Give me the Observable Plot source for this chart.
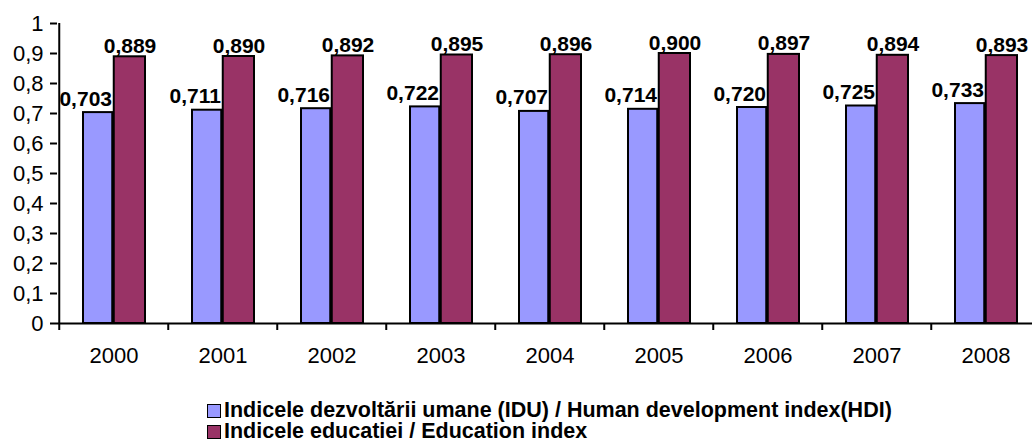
<!DOCTYPE html>
<html>
<head>
<meta charset="utf-8">
<script src="https://cdn.jsdelivr.net/npm/d3@7"></script>
<script src="https://cdn.jsdelivr.net/npm/@observablehq/plot@0.6"></script>
<style>
  html, body { margin: 0; padding: 0; background: #fff; }
  body { width: 1032px; height: 441px; overflow: hidden; font-family: "Liberation Sans", Arial, sans-serif; }
  #chart svg { display: block; }
  #legend { padding-left: 207px; font-weight: bold; font-size: 21.5px; line-height: 21px; color: #000; }
  .row { height: 21px; display: flex; align-items: center; white-space: nowrap; }
  .sw { width: 12px; height: 12px; border: 1.5px solid #000; margin-right: 3px; flex: none; }
</style>
</head>
<body>
<div id="chart"></div>
<div id="legend"></div>
<script>
const years = ["2000", "2001", "2002", "2003", "2004", "2005", "2006", "2007", "2008"];
const hdiValues = [0.703, 0.711, 0.716, 0.722, 0.707, 0.714, 0.720, 0.725, 0.733];
const eduValues = [0.889, 0.890, 0.892, 0.895, 0.896, 0.900, 0.897, 0.894, 0.893];
const yTicks = [0, 0.1, 0.2, 0.3, 0.4, 0.5, 0.6, 0.7, 0.8, 0.9, 1];
const seriesNames = [
  "Indicele dezvoltării umane (IDU) / Human development index(HDI)",
  "Indicele educatiei / Education index"
];
const seriesColors = ["#9999FF", "#993366"];

const hdiData = years.map((y, i) => ({year: y, value: hdiValues[i]}));
const eduData = years.map((y, i) => ({year: y, value: eduValues[i]}));
const fmtVal = v => v.toFixed(3).replace(".", ",");
const fmtTick = v => String(+v.toFixed(1)).replace(".", ",");

const W = 1032, H = 400;
const plotLeft = 57, plotTop = 23, zeroY = 323;
const band = 109.5;
const half = band / 2;

const chart = Plot.plot({
  width: W,
  height: H,
  marginLeft: plotLeft,
  marginRight: 0,
  marginTop: plotTop,
  marginBottom: H - zeroY,
  x: {type: "band", domain: years, range: [plotLeft, plotLeft + band * years.length], padding: 0, label: null},
  y: {domain: [0, 1], range: [zeroY, plotTop], label: null},
  style: {fontFamily: "'Liberation Sans', Arial, sans-serif", fontSize: "22px", color: "#000", background: "#fff", overflow: "hidden"},
  marks: [
    Plot.barY(hdiData, {x: "year", y: "value", fill: seriesColors[0], stroke: "#000", strokeWidth: 2, insetLeft: 24, insetRight: half + 1}),
    Plot.barY(eduData, {x: "year", y: "value", fill: seriesColors[1], stroke: "#000", strokeWidth: 2, insetLeft: half, insetRight: 23}),
    Plot.ruleY([0], {stroke: "#000", strokeWidth: 2}),
    Plot.ruleX([years[0]], {x: d => d, dx: -half, y1: d => 0, y2: d => 1, stroke: "#000", strokeWidth: 2}),
    Plot.ruleX(years, {x: d => d, dx: -half, y1: d => 0, y2: d => 0, insetBottom: -7, stroke: "#000", strokeWidth: 2}),
    Plot.axisY(yTicks, {anchor: "left", label: null, tickSize: 7, tickPadding: 7, tickFormat: fmtTick, strokeWidth: 2, stroke: "#000", fill: "#000", fontSize: 22}),
    Plot.axisX({anchor: "bottom", label: null, tickSize: 0, tickPadding: 24, fill: "#000", fontSize: 22}),
    Plot.text(hdiData, {x: "year", y: "value", text: d => fmtVal(d.value), textAnchor: "end", lineAnchor: "bottom", dx: -2, dy: -7, fontWeight: "bold", fontSize: 21, fill: "#000"}),
    Plot.text(eduData, {x: "year", y: "value", text: d => fmtVal(d.value), textAnchor: "middle", lineAnchor: "bottom", dx: 16, dy: -4, fontWeight: "bold", fontSize: 21, fill: "#000"})
  ]
});
document.getElementById("chart").appendChild(chart);

const legend = document.getElementById("legend");
seriesNames.forEach((name, i) => {
  const row = document.createElement("div");
  row.className = "row";
  const sw = document.createElement("span");
  sw.className = "sw";
  sw.style.background = seriesColors[i];
  const label = document.createElement("span");
  label.textContent = name;
  row.appendChild(sw);
  row.appendChild(label);
  legend.appendChild(row);
});
</script>
</body>
</html>
